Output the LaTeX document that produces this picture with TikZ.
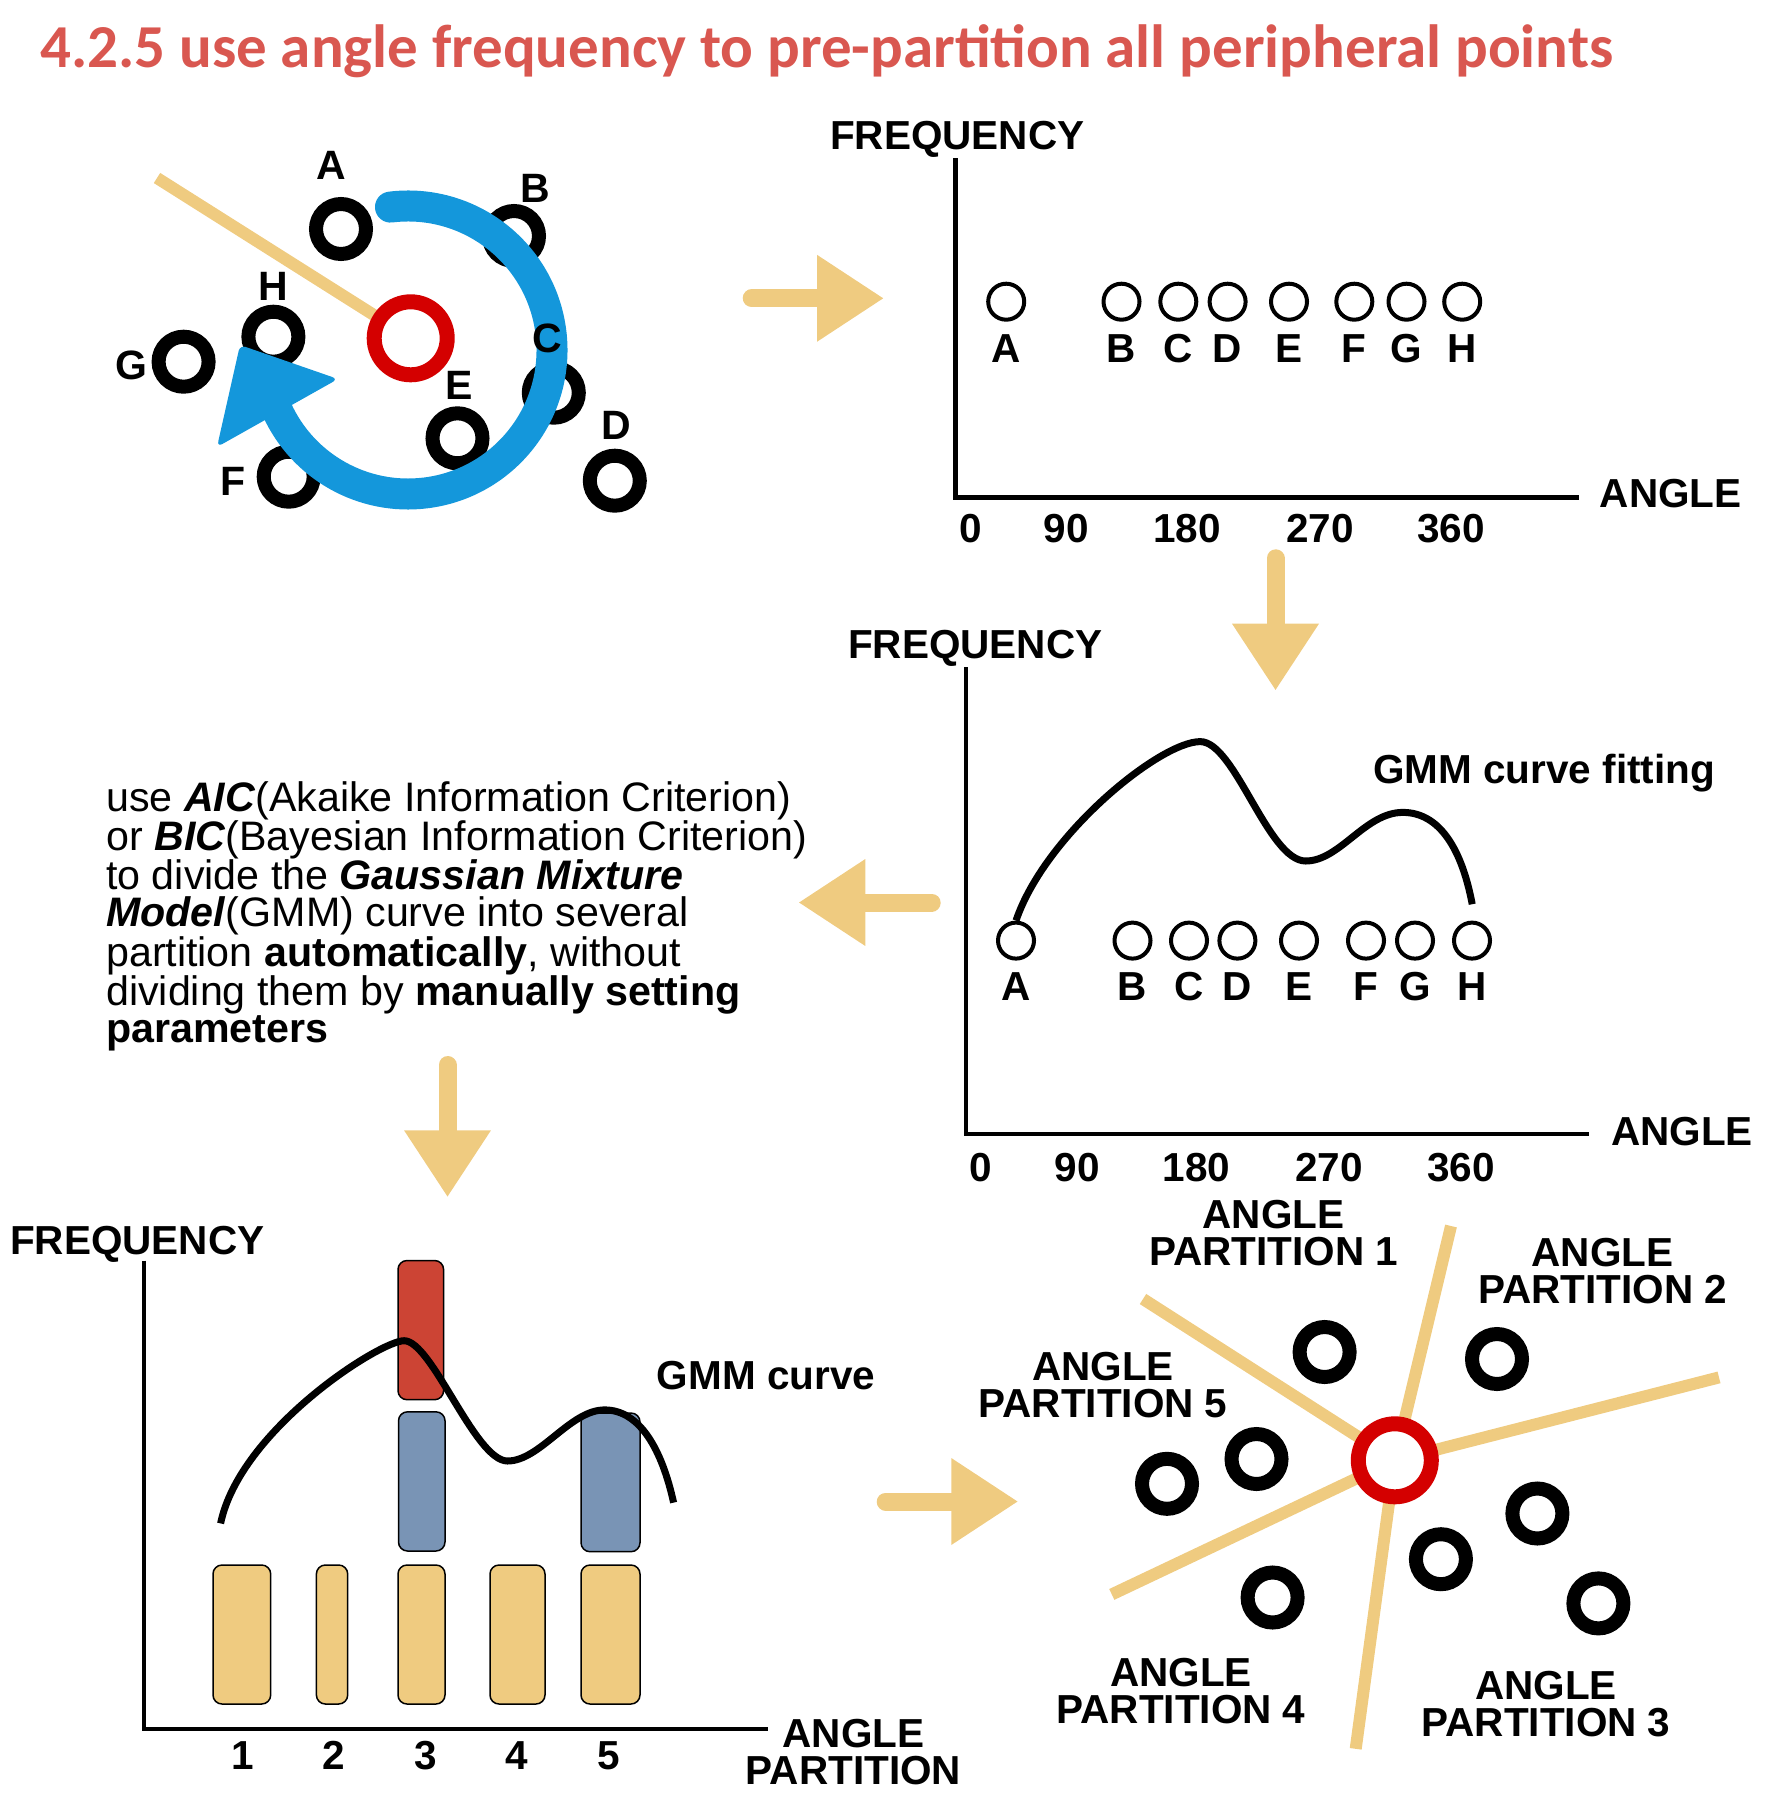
\documentclass[tikz,border=0pt]{standalone}
\usepackage{fontspec}
\setmainfont{Liberation Sans}
\newfontfamily\titlefont{Carlito}
\usepackage{xcolor}
\usetikzlibrary{arrows.meta,positioning}

\definecolor{tanc}{RGB}{239,203,128}
\definecolor{spinblue}{RGB}{20,151,219}
\definecolor{originred}{RGB}{212,0,0}
\definecolor{titlered}{RGB}{217,87,80}
\definecolor{barred}{RGB}{204,68,52}
\definecolor{barblue}{RGB}{121,148,181}

\begin{document}
\begin{tikzpicture}[x=1pt, y=-1pt]
    % Styles
    \tikzstyle{lbl} = [font=\fontsize{40.5}{37}\selectfont\bfseries, inner sep=0pt, align=center]
    \tikzstyle{dot} = [circle, draw, line width=4pt, minimum size=36pt, inner sep=0pt]
    \tikzstyle{ring} = [circle, draw, line width=14pt, minimum size=50pt, inner sep=0pt]
    \tikzstyle{origin} = [circle, draw=originred, fill=white, line width=15pt, minimum size=73pt, inner sep=0pt]
    \tikzstyle{axis} = [draw, line width=4.5pt]
    \tikzstyle{bar} = [draw, line width=1.5pt, rounded corners=9pt]
    \tikzstyle{cut} = [draw=tanc, line width=12pt]
    \tikzstyle{gmm} = [draw, line width=7pt]
    \tikzstyle{flow} = [draw=tanc, line width=18pt, line cap=round, -{Triangle[length=67pt, width=82pt]}]
    \tikzstyle{spin} = [draw=spinblue, line width=31pt, line cap=round]

    \useasboundingbox (0,0) rectangle (1788,1793);

    % Title
    \node [anchor=base west, inner sep=0pt, text=titlered, font=\titlefont\bfseries\fontsize{61}{61}\selectfont] (title) at (40,67) {4.2.5 use angle frequency to pre-partition all peripheral points};

    % Peripheral points round the origin
    \coordinate (ray) at (157,178);
    \coordinate (o1) at (410.7,338.3);
    \path [cut] (ray) -- (o1);
    \foreach \n/\px/\py in {A/341/229, B/514/236, H/273.4/336.7, G/183.6/361.7, C/553.8/392.7, E/457.5/438.3, F/288.7/476.7, D/614.8/480.7}
        \node [ring] (r\n) at (\px,\py) {};
    \node [origin] (origin1) at (o1) {};
    \coordinate (spinc) at (408,350);
    \path [spin] (spinc) ++(-97:144) arc [start angle=-97, end angle=155.6, radius=144];
    \fill [spinblue, rounded corners=6pt] (240,345) -- (338,379) -- (217,447) -- cycle;
    \foreach \n/\px/\py in {A/331.3/165, B/535.4/188.3, H/273.8/286, G/131.5/365, C/547/338.3, E/459.4/385, F/233/481.7, D/616/425}
        \node [lbl, font=\fontsize{41}{41}\selectfont\bfseries] (l\n) at (\px,\py) {\n};

    % Chart 1: angle frequency
    \coordinate (f1) at (955.6,158);
    \coordinate (c1) at (955.6,497.3);
    \coordinate (a1) at (1578.6,497.3);
    \path [axis] (f1) -- (c1) -- (a1);
    \node [lbl, anchor=base west] (freq1) at (830,149) {FREQUENCY};
    \node [lbl, anchor=base west] (ang1) at (1599.6,507) {ANGLE};
    \foreach \t/\px in {0/971, 90/1066.4, 180/1186.8, 270/1320.2, 360/1450.8}
        \node [lbl, anchor=base] at (\px,542.7) {\t};
    \foreach \n/\px in {A/1006.2, B/1121.5, C/1178.3, D/1227.6, E/1289, F/1354.3, G/1406.5, H/1462.2} {
        \node [dot] (p\n) at (\px,301.7) {};
        \node [lbl, anchor=base] at (\px,362.7) {\n};
    }

    % Chart 2: GMM fitting
    \coordinate (f2) at (966,667);
    \coordinate (c2) at (966,1134);
    \coordinate (a2) at (1588.7,1134);
    \path [axis] (f2) -- (c2) -- (a2);
    \node [lbl, anchor=base west] (freq2) at (848,658) {FREQUENCY};
    \node [lbl, anchor=base west] (ang2) at (1611,1145.4) {ANGLE};
    \foreach \t/\px in {0/981, 90/1077, 180/1196.4, 270/1329, 360/1461}
        \node [lbl, anchor=base] at (\px,1181) {\t};
    \foreach \n/\px in {A/1016, B/1132.5, C/1189, D/1237.4, E/1299, F/1366, G/1415, H/1472} {
        \node [dot] (q\n) at (\px,940.6) {};
        \node [lbl, anchor=base] at (\px,1000) {\n};
    }
    \path [gmm] (qA.north) .. controls (1045,835) and (1160,741.6) .. (1200.2,741.6)
        .. controls (1235,741.6) and (1268,861) .. (1305.7,861)
        .. controls (1340,861) and (1365,812.4) .. (1402.8,812.4)
        .. controls (1440,812.4) and (1462,850) .. (1472.2,904.2);
    \node [lbl, anchor=base west] (fit) at (1373,783) {GMM curve fitting};

    % Criterion note
    \node [font=\fontsize{41.2}{37}\selectfont, align=left, anchor=north west, inner sep=0pt] (note) at (106,781) {use \textbf{\textit{AIC}}(Akaike Information Criterion)\\or \textbf{\textit{BIC}}(Bayesian Information Criterion)\\to divide the \textbf{\textit{Gaussian Mixture}}\\\textbf{\textit{Model}}(GMM) curve into several\\partition \textbf{automatically}, without\\dividing them by \textbf{manually setting}\\\textbf{parameters}};

    % Chart 3: partition histogram
    \coordinate (f3) at (144,1260.5);
    \coordinate (c3) at (144,1729);
    \coordinate (a3) at (767.5,1729);
    \path [axis] (f3) -- (c3) -- (a3);
    \node [lbl, anchor=base west] (freq3) at (10,1254) {FREQUENCY};
    \node [lbl] (ang3) at (853.5,1752) {ANGLE\\PARTITION};
    \foreach \t/\px in {1/243, 2/334, 3/426, 4/517, 5/609}
        \node [lbl, anchor=base] at (\px,1769) {\t};
    \foreach \xa/\xb in {213/270.7, 316.4/347.7, 398/445, 490/545, 581/640}
        \path [bar, fill=tanc] (\xa,1565) rectangle (\xb,1704);
    \path [bar, fill=barblue] (398.5,1411.8) rectangle (445,1551);
    \path [bar, fill=barblue] (581,1413) rectangle (640,1551.7);
    \path [bar, fill=barred] (398,1260.5) rectangle (443.6,1399.7);
    \coordinate (g0) at (220.6,1523.4);
    \coordinate (g4) at (673.6,1502.6);
    \path [gmm] (g0) .. controls (240,1430) and (380,1340.7) .. (404.1,1340.7)
        .. controls (432,1340.7) and (475,1461) .. (507.5,1461)
        .. controls (540,1461) and (570,1409.9) .. (604.6,1409.9)
        .. controls (640,1409.9) and (662,1450) .. (g4);
    \node [lbl, anchor=base west] (curve) at (656.6,1389) {GMM curve};

    % Partitioned points
    \coordinate (o2) at (1394.8,1460.3);
    \coordinate (cut1) at (1451,1226);
    \coordinate (cut2) at (1719,1377.4);
    \coordinate (cut3) at (1355.7,1748.8);
    \coordinate (cut4) at (1111.8,1594.4);
    \coordinate (cut5) at (1143,1299);
    \foreach \k in {1,...,5}
        \path [cut] (o2) -- (cut\k);
    \foreach \k/\px/\py in {1/1324.6/1352, 2/1497/1359, 3/1256.5/1459, 4/1167/1483.8, 5/1537.4/1513.5, 6/1440.9/1559.2, 7/1272.6/1597.5, 8/1598.4/1603.4}
        \node [ring] (s\k) at (\px,\py) {};
    \node [origin] (origin2) at (o2) {};
    \node [lbl] (part1) at (1273.5,1233.3) {ANGLE\\PARTITION 1};
    \node [lbl] (part2) at (1602.5,1271.5) {ANGLE\\PARTITION 2};
    \node [lbl] (part3) at (1546,1704.4) {ANGLE\\PARTITION 3};
    \node [lbl] (part4) at (1181,1691) {ANGLE\\PARTITION 4};
    \node [lbl] (part5) at (1103,1385.5) {ANGLE\\PARTITION 5};

    % Flow arrows
    \coordinate (go1) at (751.7,298.3);   \coordinate (to1) at (884,298.3);
    \coordinate (go2) at (1275.5,558.3);  \coordinate (to2) at (1275.5,690.7);
    \coordinate (go3) at (931.7,902.5);   \coordinate (to3) at (798.3,902.5);
    \coordinate (go4) at (447.5,1065);    \coordinate (to4) at (447.5,1197.3);
    \coordinate (go5) at (885.7,1501.5);  \coordinate (to5) at (1018.3,1501.5);
    \foreach \k in {1,...,5}
        \path [flow] (go\k) -- (to\k);
\end{tikzpicture}
\end{document}
